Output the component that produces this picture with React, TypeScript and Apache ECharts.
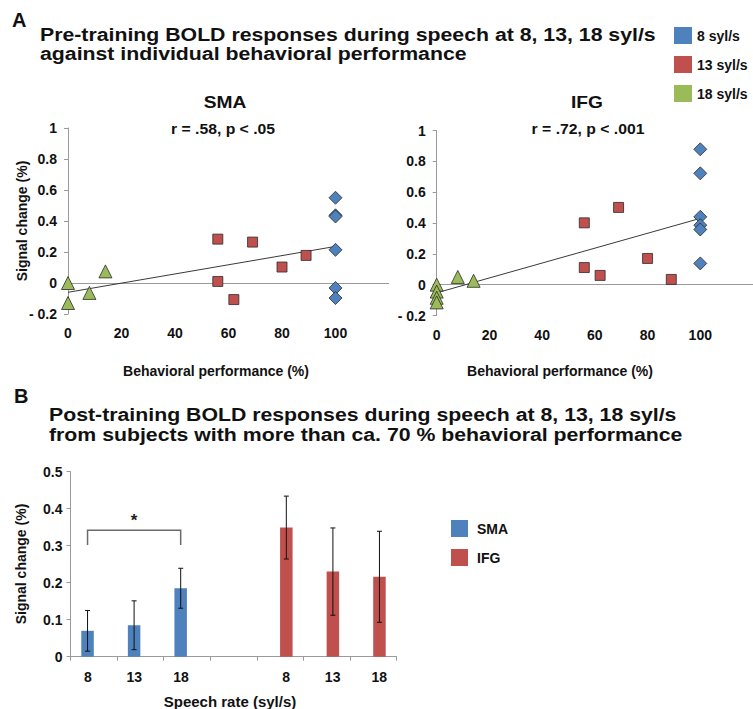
import React, { useEffect, useRef } from "react";
import * as echarts from "echarts";

// ---------- Panel A data ----------
const rateNames = ["8 syl/s", "13 syl/s", "18 syl/s"];
const rateColors = ["#4F81BD", "#C0504D", "#9BBB59"];
const rateSymbols = ["diamond", "rect", "triangle"];
const rateSymbolSizes = [13, 10, 13];

const perfTicks = [0, 20, 40, 60, 80, 100];
const signalMin = -0.2;

// [behavioral performance %, signal change %]
const smaRate8 = [[100, 0.55], [100, 0.437], [100, 0.429], [100, 0.214], [100, -0.032], [100, -0.097]];
const smaRate13 = [[56, 0.283], [69, 0.264], [89, 0.178], [80, 0.103], [56, 0.01], [62, -0.107]];
const smaRate18 = [[0, 0.0], [0, -0.129], [8, -0.064], [14, 0.075]];
const smaTrend = [[0, -0.06], [100, 0.236]];

const ifgRate8 = [[100, 0.878], [100, 0.722], [100, 0.44], [100, 0.386], [100, 0.358], [100, 0.138]];
const ifgRate13 = [[56, 0.401], [69, 0.501], [80, 0.17], [56, 0.111], [62, 0.06], [89, 0.034]];
const ifgRate18 = [[0, 0.0], [0, -0.045], [0, -0.085], [0, -0.115], [8, 0.05], [14, 0.025]];
const ifgTrend = [[0, -0.053], [100, 0.43]];

// ---------- Panel B data ----------
const rateCategories = ["8", "13", "18", "", "8", "13", "18"];
const smaCatIdx = [0, 1, 2];
const ifgCatIdx = [4, 5, 6];
const smaMeans = [0.07, 0.085, 0.185];
const smaErr = [0.055, 0.066, 0.054];
const ifgMeans = [0.349, 0.23, 0.216];
const ifgErr = [0.085, 0.118, 0.123];
const bracket = [[0, 2, 0.342, 0.302]]; // from cat, to cat, top value, leg bottom value

const FONT = "'Liberation Sans', Arial, Helvetica, sans-serif";
const AXIS_GREY = "#9a9a9a";
const BAR_W = 12.5;

const labelStyle = { color: "#111", fontWeight: "bold", fontSize: 14, fontFamily: FONT };

function scatterAxes(grid: number) {
  const x = {
    gridIndex: grid,
    type: "value",
    min: 0,
    max: 120,
    interval: 20,
    position: "bottom",
    axisLine: { show: false, onZero: false },
    axisTick: { show: false },
    splitLine: { show: false },
    axisLabel: { show: false },
  };
  const y = {
    gridIndex: grid,
    type: "value",
    min: signalMin,
    max: 1,
    interval: 0.2,
    axisLine: { show: true, onZero: false, lineStyle: { color: AXIS_GREY, width: 1 } },
    axisTick: { show: true, length: 4, lineStyle: { color: AXIS_GREY } },
    splitLine: { show: false },
    axisLabel: {
      ...labelStyle,
      margin: 11,
      formatter: (v: number) => {
        const r = Math.round(v * 10) / 10;
        if (r < 0) return "- " + Math.abs(r);
        return String(r);
      },
    },
  };
  return { x, y };
}

function scatterSeries(grid: number, groups: number[][][], trend: number[][]) {
  const out: any[] = groups.map((pts, i) => ({
    name: rateNames[i],
    type: "scatter",
    xAxisIndex: grid,
    yAxisIndex: grid,
    symbol: rateSymbols[i],
    symbolSize: rateSymbolSizes[i],
    itemStyle: { color: rateColors[i], borderColor: "#2b2b2b", borderWidth: 0.8, opacity: 1 },
    data: pts,
    z: 3,
  }));
  out.push({
    type: "line",
    xAxisIndex: grid,
    yAxisIndex: grid,
    data: trend,
    symbol: "none",
    lineStyle: { color: "#3a3a3a", width: 1 },
    z: 2,
    silent: true,
    markLine: {
      silent: true,
      symbol: "none",
      label: { show: false },
      lineStyle: { color: AXIS_GREY, width: 1, type: "solid" },
      data: [{ yAxis: 0 }],
      z: 1,
    },
  });
  // x tick labels, positioned through the axis scale below the plot area
  out.push({
    type: "custom",
    xAxisIndex: grid,
    yAxisIndex: grid,
    silent: true,
    clip: false,
    z: 4,
    encode: { x: 0, y: 1 },
    data: perfTicks.map((v) => [v, signalMin]),
    renderItem: (params: any, api: any) => {
      const p = api.coord([api.value(0), api.value(1)]);
      return {
        type: "text",
        x: p[0],
        y: p[1] + 19,
        style: {
          text: String(api.value(0)),
          fill: "#111",
          font: `bold 14px ${FONT}`,
          textAlign: "center",
          textVerticalAlign: "middle",
        },
      };
    },
  });
  return out;
}

export default function App() {
  const ref = useRef<HTMLDivElement>(null);

  useEffect(() => {
    if (!ref.current) return;
    const chart = echarts.init(ref.current, undefined, { renderer: "svg" });

    const a0 = scatterAxes(0);
    const a1 = scatterAxes(1);

    const errData = [
      ...smaCatIdx.map((c, i) => [c, smaMeans[i], smaErr[i], -1]),
      ...ifgCatIdx.map((c, i) => [c, ifgMeans[i], ifgErr[i], 1]),
    ];

    const text = (t: string, x: number, y: number, size: number, align = "left", scaleX = 1, rotation = 0) => ({
      type: "text",
      x,
      y,
      scaleX,
      rotation,
      style: {
        text: t,
        fill: "#111",
        font: `bold ${size}px ${FONT}`,
        textAlign: align,
        textVerticalAlign: "middle",
      },
    });

    const option: any = {
      animation: false,
      backgroundColor: "#ffffff",
      textStyle: { fontFamily: FONT },
      grid: [
        { left: 68, top: 128, width: 321, height: 186, containLabel: false },
        { left: 436.7, top: 130.5, width: 320, height: 185, containLabel: false },
        { left: 70.5, top: 471.7, width: 326, height: 185, containLabel: false },
      ],
      xAxis: [
        a0.x,
        a1.x,
        {
          gridIndex: 2,
          type: "category",
          data: rateCategories,
          axisLine: { show: true, lineStyle: { color: AXIS_GREY } },
          axisTick: { show: true, length: 4, lineStyle: { color: AXIS_GREY } },
          axisLabel: {
            ...labelStyle,
            margin: 13,
            interval: 0,
            formatter: (v: string, idx: number) =>
              v === "" ? "" : idx < 3 ? `{l|${v}}` : `{r|${v}}`,
            rich: {
              l: { ...labelStyle, padding: [0, 12, 0, 0] },
              r: { ...labelStyle, padding: [0, 0, 0, 12] },
            },
          },
        },
      ],
      yAxis: [
        a0.y,
        a1.y,
        {
          gridIndex: 2,
          type: "value",
          min: 0,
          max: 0.5,
          interval: 0.1,
          axisLine: { show: true, lineStyle: { color: AXIS_GREY } },
          axisTick: { show: true, length: 4, lineStyle: { color: AXIS_GREY } },
          splitLine: { show: false },
          axisLabel: { ...labelStyle, margin: 8, formatter: (v: number) => String(Math.round(v * 10) / 10) },
        },
      ],
      legend: [
        {
          data: rateNames,
          orient: "vertical",
          left: 674,
          top: 27,
          padding: 0,
          icon: "rect",
          itemWidth: 18,
          itemHeight: 17,
          itemGap: 12,
          selectedMode: false,
          itemStyle: { borderWidth: 0 },
          textStyle: { ...labelStyle, fontSize: 14 },
        },
        {
          data: ["SMA", "IFG"],
          orient: "vertical",
          left: 451,
          top: 520,
          padding: 0,
          icon: "rect",
          itemWidth: 17,
          itemHeight: 17,
          itemGap: 12,
          selectedMode: false,
          itemStyle: { borderWidth: 0 },
          textStyle: { ...labelStyle, fontSize: 14, padding: [0, 0, 0, 4] },
        },
      ],
      series: [
        ...scatterSeries(0, [smaRate8, smaRate13, smaRate18], smaTrend),
        ...scatterSeries(1, [ifgRate8, ifgRate13, ifgRate18], ifgTrend),
        {
          name: "SMA",
          type: "bar",
          xAxisIndex: 2,
          yAxisIndex: 2,
          barWidth: BAR_W,
          barGap: "0%",
          itemStyle: { color: "#4F81BD" },
          data: rateCategories.map((_, i) => {
            const k = smaCatIdx.indexOf(i);
            return k >= 0 ? smaMeans[k] : "-";
          }),
        },
        {
          name: "IFG",
          type: "bar",
          xAxisIndex: 2,
          yAxisIndex: 2,
          barWidth: BAR_W,
          barGap: "0%",
          itemStyle: { color: "#C0504D" },
          data: rateCategories.map((_, i) => {
            const k = ifgCatIdx.indexOf(i);
            return k >= 0 ? ifgMeans[k] : "-";
          }),
        },
        {
          type: "custom",
          xAxisIndex: 2,
          yAxisIndex: 2,
          z: 5,
          silent: true,
          encode: { x: 0, y: 1 },
          data: errData,
          renderItem: (params: any, api: any) => {
            const c = api.value(0);
            const m = api.value(1);
            const e = api.value(2);
            const side = api.value(3);
            const top = api.coord([c, m + e]);
            const bot = api.coord([c, m - e]);
            const x = top[0] + (side * BAR_W) / 2;
            const st = { stroke: "#111", lineWidth: 1 };
            return {
              type: "group",
              children: [
                { type: "line", shape: { x1: x, y1: top[1], x2: x, y2: bot[1] }, style: st },
                { type: "line", shape: { x1: x - 2.5, y1: top[1], x2: x + 2.5, y2: top[1] }, style: st },
                { type: "line", shape: { x1: x - 2.5, y1: bot[1], x2: x + 2.5, y2: bot[1] }, style: st },
              ],
            };
          },
        },
        {
          type: "custom",
          xAxisIndex: 2,
          yAxisIndex: 2,
          z: 5,
          silent: true,
          encode: { x: [0, 1], y: [2, 3] },
          data: bracket,
          renderItem: (params: any, api: any) => {
            const off = -BAR_W / 2;
            const p1 = api.coord([api.value(0), api.value(3)]);
            const p2 = api.coord([api.value(0), api.value(2)]);
            const p3 = api.coord([api.value(1), api.value(2)]);
            const p4 = api.coord([api.value(1), api.value(3)]);
            return {
              type: "group",
              children: [
                {
                  type: "polyline",
                  shape: {
                    points: [
                      [p1[0] + off, p1[1]],
                      [p2[0] + off, p2[1]],
                      [p3[0] + off, p3[1]],
                      [p4[0] + off, p4[1]],
                    ],
                  },
                  style: { stroke: "#6b6b6b", lineWidth: 1.5, fill: "none" },
                },
                {
                  type: "text",
                  x: (p2[0] + p3[0]) / 2 + off,
                  y: p2[1] - 10,
                  style: {
                    text: "*",
                    fill: "#222",
                    font: `bold 17px ${FONT}`,
                    textAlign: "center",
                    textVerticalAlign: "middle",
                  },
                },
              ],
            };
          },
        },
      ],
      graphic: [
        text("A", 12, 20, 20),
        text("Pre-training BOLD responses during speech at 8, 13, 18 syl/s", 40, 34, 19, "left", 1.12),
        text("against individual behavioral performance", 40, 53.5, 19, "left", 1.12),
        text("SMA", 225, 103, 16, "center", 1.2),
        text("IFG", 587, 103, 16, "center", 1.2),
        text("r = .58, p < .05", 223, 129, 15, "center", 1.05),
        text("r = .72, p < .001", 588, 129, 15, "center", 1.05),
        text("Signal change (%)", 21.5, 221, 14, "center", 1, Math.PI / 2),
        text("Behavioral performance (%)", 216, 371, 14, "center"),
        text("Behavioral performance (%)", 560, 371, 14, "center"),
        text("B", 14, 396, 20),
        text("Post-training BOLD responses during speech at 8, 13, 18 syl/s", 49, 414, 19, "left", 1.12),
        text("from subjects with more than ca. 70 % behavioral performance", 49, 434, 19, "left", 1.12),
        text("Signal change (%)", 21, 564, 14, "center", 1, Math.PI / 2),
        text("Speech rate (syl/s)", 230, 701, 15, "center"),
      ],
    };

    chart.setOption(option);
    return () => chart.dispose();
  }, []);

  return (
    <div
      ref={ref}
      style={{ position: "absolute", left: 0, top: 0, width: 753, height: 709, background: "#fff" }}
    />
  );
}
